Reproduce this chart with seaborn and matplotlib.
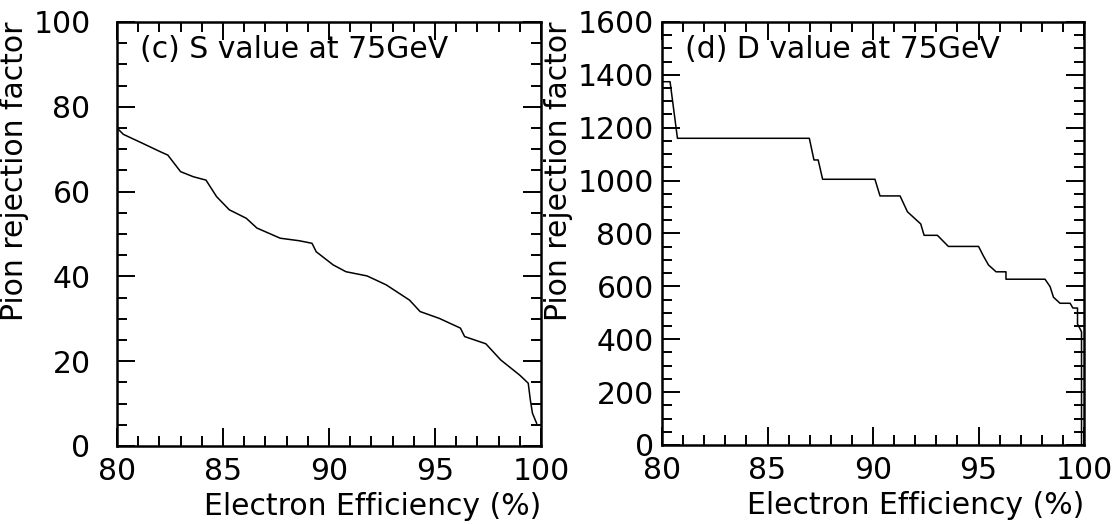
import numpy as np
import pandas as pd
import seaborn as sns
from matplotlib import pyplot as plt
from matplotlib.ticker import MultipleLocator

# (c) S value at 75GeV
s_eff = [80.0, 80.3, 81.2, 82.0, 82.4, 83.0, 83.6, 84.2, 84.7, 85.3, 86.1, 86.6,
         87.7, 88.6, 89.2, 89.4, 90.2, 90.8, 91.8, 92.7, 93.8, 94.3, 95.2, 96.2,
         96.4, 97.4, 98.1, 99.0, 99.4, 99.5, 99.6, 99.8]
s_rej = [75.0, 73.5, 71.4, 69.5, 68.6, 64.7, 63.5, 62.7, 58.8, 55.7, 53.7, 51.4,
         49.0, 48.4, 47.8, 45.8, 42.7, 41.1, 40.1, 38.0, 34.4, 31.7, 30.1, 27.8,
         25.8, 24.1, 20.3, 16.7, 14.8, 10.8, 7.7, 5.3]

# (d) D value at 75GeV
d_eff = [80.0, 80.38, 80.73, 86.98, 87.2, 87.4, 87.61, 90.09, 90.33, 91.28, 91.63,
         92.26, 92.42, 93.05, 93.57, 95.0, 95.23, 95.47, 95.83, 96.3, 96.3, 98.15,
         98.39, 98.55, 98.86, 99.34, 99.47, 99.69, 99.69, 99.8, 99.88, 99.88]
d_rej = [1374, 1374, 1160, 1160, 1078, 1078, 1005, 1005, 942, 942, 882,
         836, 793, 793, 751, 751, 715, 681, 655, 655, 627, 627,
         599, 559, 536, 536, 518, 518, 458, 441, 428, 0]

panels = [
    ("(c) S value at 75GeV", s_eff, s_rej, (0, 100), 20, 5, 19),
    ("(d) D value at 75GeV", d_eff, d_rej, (0, 1600), 200, 50, 6),
]

sns.set_theme(style="ticks")
plt.rcParams['font.family'] = ['DejaVu Sans']
plt.rcParams['text.color'] = 'black'
plt.rcParams['axes.labelcolor'] = 'black'

fig = plt.figure(figsize=(11.17, 5.24), dpi=100)
axes = [fig.add_axes([0.1047, 0.1489, 0.3796, 0.8092]),
        fig.add_axes([0.5927, 0.1508, 0.3778, 0.8073])]

for ax, (title, eff, rej, ylim, ymaj, ymin, ypad) in zip(axes, panels):
    df = pd.DataFrame({"eff": eff, "rej": rej})
    sns.lineplot(data=df, x="eff", y="rej", ax=ax, sort=False, estimator=None,
                 color="black", linewidth=1.1)
    ax.set_xlim(80, 100)
    ax.set_ylim(*ylim)
    ax.xaxis.set_major_locator(MultipleLocator(5))
    ax.xaxis.set_minor_locator(MultipleLocator(1))
    ax.yaxis.set_major_locator(MultipleLocator(ymaj))
    ax.yaxis.set_minor_locator(MultipleLocator(ymin))
    ax.tick_params(which="both", direction="in", top=True, right=True,
                   width=1.4, colors="black", labelsize=21.5)
    ax.tick_params(which="major", length=13)
    ax.tick_params(which="minor", length=7)
    ax.tick_params(axis="x", which="major", pad=8)
    ax.tick_params(axis="y", which="major", pad=ypad)
    for sp in ax.spines.values():
        sp.set_linewidth(1.8)
        sp.set_color("black")
    ax.set_xlabel("Electron Efficiency (%)", loc="right", fontsize=21.5,
                  labelpad=4, color="black")
    ax.set_ylabel("Pion rejection factor", loc="top", fontsize=21.5,
                  labelpad=3, color="black")
    ax.text(0.054, 0.934, title, transform=ax.transAxes, fontsize=21.5,
            ha="left", va="center", color="black")

fig.savefig("out.png", dpi=100)
